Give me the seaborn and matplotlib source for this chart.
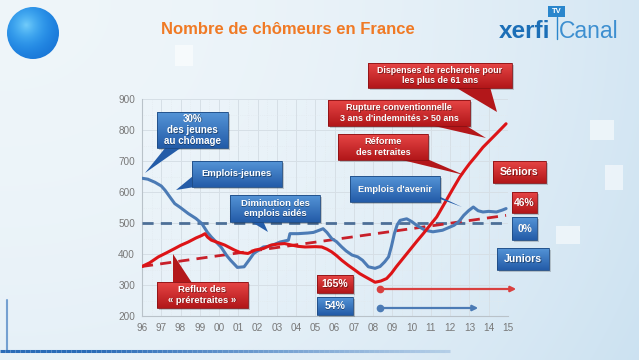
import numpy as np
import pandas as pd
import matplotlib
matplotlib.use("Agg")
import matplotlib.pyplot as plt
import seaborn as sns
from matplotlib.patches import Rectangle, Polygon, Circle
from matplotlib.collections import LineCollection

# ---------------- data ----------------
years_juniors = [1996.0, 1996.3, 1996.67, 1997.0, 1997.2, 1997.5, 1997.7, 1998.0, 1998.4, 1998.8,
                 1999.1, 1999.4, 1999.6, 2000.1, 2000.4, 2000.6, 2000.95, 2001.3, 2001.55, 2001.8,
                 2002.3, 2002.56, 2002.9, 2003.17, 2003.6, 2003.68, 2004.1, 2004.6, 2004.9, 2005.2,
                 2005.4, 2005.6, 2005.85, 2006.1, 2006.37, 2006.6, 2006.9, 2007.2, 2007.45, 2007.75,
                 2008.1, 2008.36, 2008.6, 2008.8, 2008.95, 2009.1, 2009.25, 2009.4, 2009.74, 2010.0,
                 2010.26, 2010.7, 2011.1, 2011.6, 2011.9, 2012.2, 2012.45, 2012.7, 2012.95, 2013.2,
                 2013.45, 2013.7, 2014.0, 2014.4, 2014.7, 2014.9]
juniors = [645, 642, 632, 620, 606, 580, 563, 550, 531, 515,
           499, 470, 455, 423, 395, 380, 357, 359, 380, 402,
           423, 425, 432, 439, 445, 466, 466, 468, 470, 477,
           482, 470, 450, 440, 423, 410, 397, 391, 380, 359,
           354, 360, 375, 391, 425, 466, 495, 509, 514, 505,
           493, 477, 472, 477, 485, 493, 505, 525, 540, 552,
           540, 536, 538, 536, 542, 547]

years_seniors = [1996.0, 1996.4, 1996.85, 1997.3, 1997.7, 1998.0, 1998.4, 1998.8, 1999.1, 1999.27,
                 1999.4, 1999.6, 2000.0, 2000.3, 2000.8, 2001.1, 2001.5, 2001.87, 2002.3, 2002.7,
                 2003.0, 2003.4, 2003.78, 2004.1, 2004.46, 2005.0, 2005.33, 2005.6, 2005.85, 2006.1,
                 2006.37, 2006.7, 2007.06, 2007.3, 2007.58, 2007.84, 2008.1, 2008.4, 2008.7, 2008.95,
                 2009.2, 2009.55, 2009.9, 2010.25, 2010.6, 2010.95, 2011.3, 2011.55, 2011.8, 2012.15,
                 2012.5, 2012.75, 2013.0, 2013.35, 2013.7, 2014.05, 2014.4, 2014.65, 2014.9]
seniors = [360, 372, 391, 405, 418, 428, 439, 452, 460, 466,
           455, 445, 436, 429, 413, 405, 402, 413, 418, 429,
           432, 434, 429, 425, 423, 424, 423, 416, 407, 395,
           380, 364, 348, 337, 327, 318, 309, 313, 321, 338,
           359, 386, 413, 440, 466, 493, 520, 547, 574, 612,
           649, 671, 692, 718, 745, 767, 789, 805, 821]

trend_years = [1996.0, 2014.9]
trend_seniors = [360, 525]
ref_years = [1996.0, 2014.9]
ref_juniors = [500, 500]

tick_years = list(range(1996, 2016))
tick_labels = ["96", "97", "98", "99", "00", "01", "02", "03", "04", "05",
               "06", "07", "08", "09", "10", "11", "12", "13", "14", "15"]
y_ticks = [200, 300, 400, 500, 600, 700, 800, 900]

title = "Nombre de chômeurs en France"

# ---------------- style ----------------
sns.set_theme(style="white")
plt.rcParams['font.family'] = ['Liberation Sans', 'DejaVu Sans']

W, H = 639, 360
fig = plt.figure(figsize=(W / 100, H / 100), dpi=100)

# background gradient
bg = fig.add_axes([0, 0, 1, 1], zorder=0)
gx = np.linspace(0, 1, 320)
gy = np.linspace(0, 1, 180)
X, Y = np.meshgrid(gx, gy)
c1 = np.array([0.935, 0.962, 0.980])
c2 = np.array([0.80, 0.885, 0.945])
t = np.clip(0.75 * X ** 2.2 + 0.25 * Y ** 2, 0, 1)
img = c1[None, None, :] * (1 - t[..., None]) + c2[None, None, :] * t[..., None]
bg.imshow(img, extent=(0, W, H, 0), aspect='auto', interpolation='bilinear')
# decorative translucent squares
for (x0, y0, w, h) in [(175, 45, 18, 21), (590, 120, 24, 20), (556, 226, 24, 18),
                       (605, 165, 18, 25)]:
    bg.add_patch(Rectangle((x0, y0), w, h, facecolor='white', alpha=0.55, lw=0))
# bottom frame line
xs = np.linspace(0, 450, 90)
segs = [[(xs[i], 351), (xs[i + 1], 351)] for i in range(len(xs) - 1)]
alphas = np.clip(1.2 - xs[:-1] / 450, 0, 1)
cols = [(0.16, 0.42, 0.72, a) for a in alphas]
bg.add_collection(LineCollection(segs, colors=cols, linewidths=2.2))
bg.plot([7, 7], [300, 351], color=(0.16, 0.42, 0.72, 0.6), lw=1.5)
# sphere
sph = np.zeros((60, 60, 4))
sx, sy = np.meshgrid(np.linspace(-1, 1, 60), np.linspace(-1, 1, 60))
r = np.sqrt((sx + 0.25) ** 2 + (sy + 0.3) ** 2)
base = np.clip(1 - 0.55 * r, 0, 1)
sph[..., 0] = 0.10 + 0.35 * base ** 3
sph[..., 1] = 0.45 + 0.35 * base ** 2
sph[..., 2] = 0.80 + 0.18 * base
sph[..., 3] = 1.0
im = bg.imshow(sph, extent=(6, 60, 60, 6), interpolation='bilinear')
im.set_clip_path(Circle((33, 33), 26, transform=bg.transData))
bg.set_xlim(0, W)
bg.set_ylim(H, 0)
bg.axis('off')

# ---------------- main axes ----------------
ax = fig.add_axes([142 / W, (H - 316) / H, (508 - 142) / W, (316 - 99.3) / H], zorder=2)
ax.set_facecolor('none')

df_j = pd.DataFrame({'year': years_juniors, 'value': juniors})
df_s = pd.DataFrame({'year': years_seniors, 'value': seniors})
df_t = pd.DataFrame({'year': trend_years, 'value': trend_seniors})
df_r = pd.DataFrame({'year': ref_years, 'value': ref_juniors})

sns.lineplot(data=df_r, x='year', y='value', ax=ax, color='#4d6f97', lw=2.0,
             linestyle=(0, (4, 2.6)), zorder=3)
sns.lineplot(data=df_t, x='year', y='value', ax=ax, color='#c8202a', lw=2.0,
             linestyle=(0, (4, 2.6)), zorder=3)
sns.lineplot(data=df_j, x='year', y='value', ax=ax, color='#4c7bb5', lw=2.2, zorder=4)
sns.lineplot(data=df_s, x='year', y='value', ax=ax, color='#dd1417', lw=2.2, zorder=5)

ax.set_xlim(1996, 2015)
ax.set_ylim(200, 900)
ax.set_xticks(tick_years)
ax.set_xticklabels(tick_labels)
ax.set_yticks(y_ticks)
ax.set_xticks(np.arange(1996.5, 2015, 1.0), minor=True)
ax.set_yticks(np.arange(250, 900, 50), minor=True)
ax.tick_params(axis='both', which='both', length=0, labelsize=7.2, labelcolor='#787878', pad=5)
ax.grid(which='major', color='#d6dfe6', lw=0.7)
ax.grid(which='minor', color='#e2e9ee', lw=0.5, linestyle=':')
ax.set_xlabel('')
ax.set_ylabel('')
for s in ['top', 'right']:
    ax.spines[s].set_visible(False)
for s in ['left', 'bottom']:
    ax.spines[s].set_color('#b9c2c9')
    ax.spines[s].set_linewidth(0.8)

# ---------------- overlay (annotations) ----------------
ov = fig.add_axes([0, 0, 1, 1], zorder=6)
ov.set_xlim(0, W)
ov.set_ylim(H, 0)
ov.axis('off')
ov.patch.set_alpha(0)

RED_TOP, RED_BOT = np.array([0.90, 0.27, 0.27]), np.array([0.70, 0.09, 0.10])
BLU_TOP, BLU_BOT = np.array([0.33, 0.58, 0.84]), np.array([0.14, 0.36, 0.66])


def box(x0, x1, y0, y1, text, kind, fs=6.8, pointer=None):
    top, bot = (RED_TOP, RED_BOT) if kind == 'r' else (BLU_TOP, BLU_BOT)
    edge = '#8a1014' if kind == 'r' else '#1d4a82'
    ov.add_patch(Rectangle((x0 + 1.5, y0 + 1.5), x1 - x0, y1 - y0, facecolor='#000000',
                           alpha=0.18, lw=0, zorder=1))
    if pointer is not None:
        ov.add_patch(Polygon(pointer, closed=True, facecolor=bot, edgecolor='none', zorder=2))
    g = np.linspace(0, 1, 32)[:, None, None]
    grad = top[None, None, :] * (1 - g) + bot[None, None, :] * g
    grad = np.repeat(grad, 2, axis=1)
    ov.imshow(grad, extent=(x0, x1, y1, y0), aspect='auto', zorder=3, interpolation='bilinear')
    ov.add_patch(Rectangle((x0, y0), x1 - x0, y1 - y0, facecolor='none', edgecolor=edge,
                           lw=0.6, zorder=4))
    ov.text((x0 + x1) / 2 + 0.5, (y0 + y1) / 2 + 0.6, text, ha='center', va='center',
            color='black', alpha=0.35, fontsize=fs, fontweight='bold', linespacing=1.15, zorder=5)
    ov.text((x0 + x1) / 2, (y0 + y1) / 2, text, ha='center', va='center', color='white',
            fontsize=fs, fontweight='bold', linespacing=1.15, zorder=6)


box(157, 228, 112, 148, "30%\ndes jeunes\nau chômage", 'b', fs=7.0,
    pointer=[(166, 147), (182, 147), (145, 173)])
box(192, 282, 161, 187, "Emplois-jeunes", 'b', fs=6.8,
    pointer=[(193, 176), (201, 186), (176, 190)])
box(230, 320, 195, 222, "Diminution des\nemplois aidés", 'b', fs=6.8,
    pointer=[(250, 221), (263, 221), (268, 232)])
box(157, 248, 282, 308, "Reflux des\n« préretraites »", 'r', fs=6.8,
    pointer=[(173, 283), (192, 283), (173, 254)])
box(317, 353, 275, 293, "165%", 'r', fs=7.6)
box(317, 353, 297, 315, "54%", 'b', fs=7.6)
box(368, 512, 63, 88, "Dispenses de recherche pour\nles plus de 61 ans", 'r', fs=6.4,
    pointer=[(455, 87), (490, 87), (497, 112)])
box(328, 470, 100, 126, "Rupture conventionnelle\n3 ans d'indemnités > 50 ans", 'r', fs=6.5,
    pointer=[(430, 125), (465, 125), (486, 138)])
box(338, 428, 134, 160, "Réforme\ndes retraites", 'r', fs=6.6,
    pointer=[(398, 159), (427, 159), (464, 175)])
box(350, 440, 176, 202, "Emplois d'avenir", 'b', fs=6.7,
    pointer=[(432, 193), (440, 199), (462, 207)])
box(493, 546, 161, 183, "Séniors", 'r', fs=7.6)
box(512, 537, 192, 213, "46%", 'r', fs=7.4)
box(512, 537, 217, 240, "0%", 'b', fs=7.4)
box(497, 549, 248, 270, "Juniors", 'b', fs=7.6)

# evolution arrows
ov.annotate('', xy=(519, 289), xytext=(380, 289),
            arrowprops=dict(arrowstyle='-|>', color='#d9403f', lw=1.6, mutation_scale=8))
ov.annotate('', xy=(481, 308), xytext=(380, 308),
            arrowprops=dict(arrowstyle='-|>', color='#4c7bb5', lw=1.6, mutation_scale=8))
ov.plot([380], [289], 'o', color='#d9403f', ms=4.5)
ov.plot([380], [308], 'o', color='#4c7bb5', ms=4.5)

# title and logo
ov.text(288, 29, title, ha='center', va='center', color='#f07a25', fontsize=12,
        fontweight='bold')
ov.text(499, 31, "xerfi", ha='left', va='center', color='#1c6fb7', fontsize=17.5,
        fontweight='bold')
ov.text(559, 31, "Canal", ha='left', va='center', color='#3d8fd0', fontsize=16.5)
ov.add_patch(Rectangle((548, 6), 17, 11, facecolor='#2a86cc', lw=0))
ov.text(556.5, 11.5, "TV", ha='center', va='center', color='white', fontsize=5.5,
        fontweight='bold')
ov.plot([556.5, 556.5], [17, 39], color='#2a86cc', lw=1)

fig.savefig('out.png', dpi=100)
